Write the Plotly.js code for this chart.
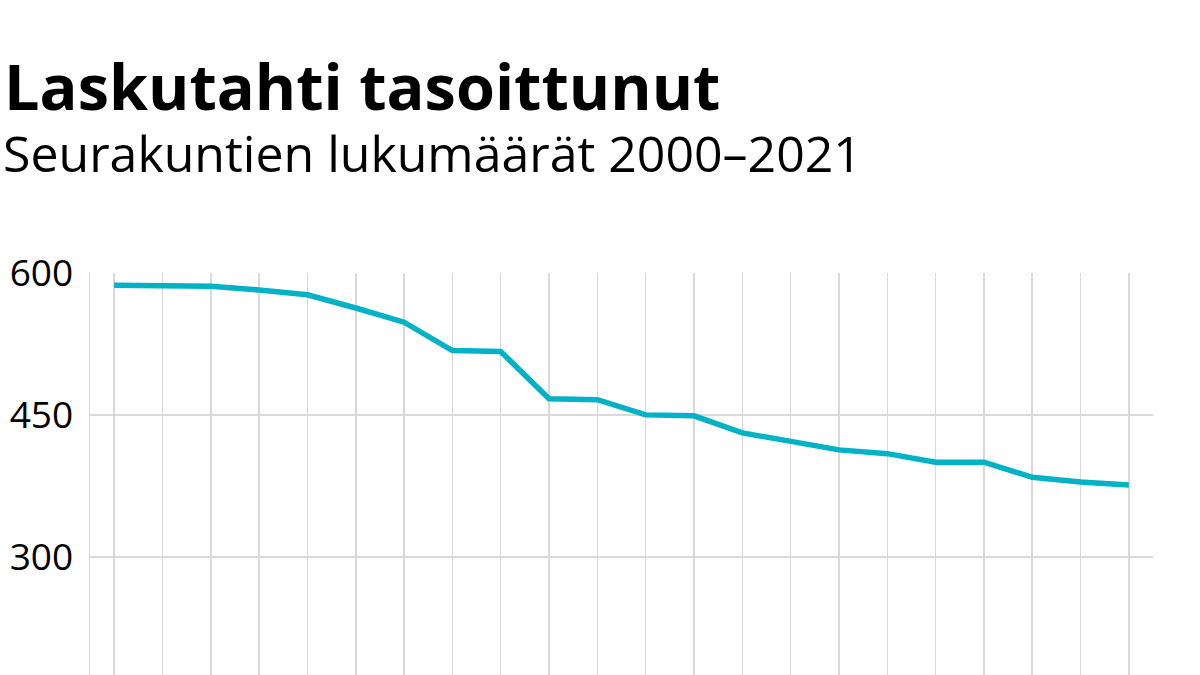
<!DOCTYPE html>
<html>
<head>
<meta charset="utf-8">
<script src="https://cdn.plot.ly/plotly-3.0.1.min.js"></script>
<style>
  html, body { margin: 0; padding: 0; background: #fff; }
  #chart { width: 1200px; height: 675px; }
</style>
</head>
<body>
<div id="chart"></div>
<script>
  // Parish counts (seurakuntien lukumäärä)
  const years = [2000, 2001, 2002, 2003, 2004, 2005, 2006, 2007, 2008, 2009, 2010,
                 2011, 2012, 2013, 2014, 2015, 2016, 2017, 2018, 2019, 2020, 2021];
  const parishes = [587, 586, 586, 582, 577, 563, 548, 518, 517, 467, 466,
                    450, 449, 431, 422, 413, 409, 400, 400, 384, 379, 376];
  const yTicks = [300, 450, 600];

  const FONT = "'Open Sans', 'Noto Sans', sans-serif";
  const GRID = "#d9d9d9";
  const LINE = "#00b2c6";

  const M = { l: 90, r: 47, t: 273, b: 0 };
  const plotW = 1200 - M.l - M.r;
  const plotH = 675 - M.t - M.b;
  const px2x = px => (px - M.l) / plotW;
  const px2y = py => 1 + (M.t - py) / plotH;

  Plotly.newPlot("chart", [{
    type: "scatter", mode: "lines",
    x: years, y: parishes,
    line: { color: LINE, width: 5.5 },
    hoverinfo: "x+y",
  }], {
    width: 1200, height: 675,
    margin: M,
    paper_bgcolor: "#fff", plot_bgcolor: "#fff",
    font: { family: FONT, color: "#000" },
    showlegend: false,
    xaxis: {
      range: [1999.5, 2021.5],
      tickvals: years, showticklabels: false,
      showgrid: true, gridcolor: GRID, gridwidth: 1.5,
      zeroline: false, showline: false, ticks: "",
    },
    yaxis: {
      range: [175, 600],
      tickvals: yTicks, ticktext: yTicks.map(String),
      tickfont: { size: 37, color: "#000", family: FONT },
      ticklabelstandoff: 8,
      showgrid: true, gridcolor: GRID, gridwidth: 1.5,
      zeroline: false, ticks: "",
      showline: true, linecolor: GRID, linewidth: 1.5,
    },
    annotations: [
      { text: "<b>Laskutahti tasoittunut</b>", xref: "paper", yref: "paper",
        x: px2x(2), y: px2y(130), xanchor: "left", yanchor: "bottom",
        showarrow: false, font: { size: 63, family: FONT, color: "#000" } },
      { text: "Seurakuntien lukumäärät 2000–2021", xref: "paper", yref: "paper",
        x: px2x(1), y: px2y(189), xanchor: "left", yanchor: "bottom",
        showarrow: false, font: { size: 50, family: FONT, color: "#000" } },
    ],
  }, { displayModeBar: false, staticPlot: true });
</script>
</body>
</html>
